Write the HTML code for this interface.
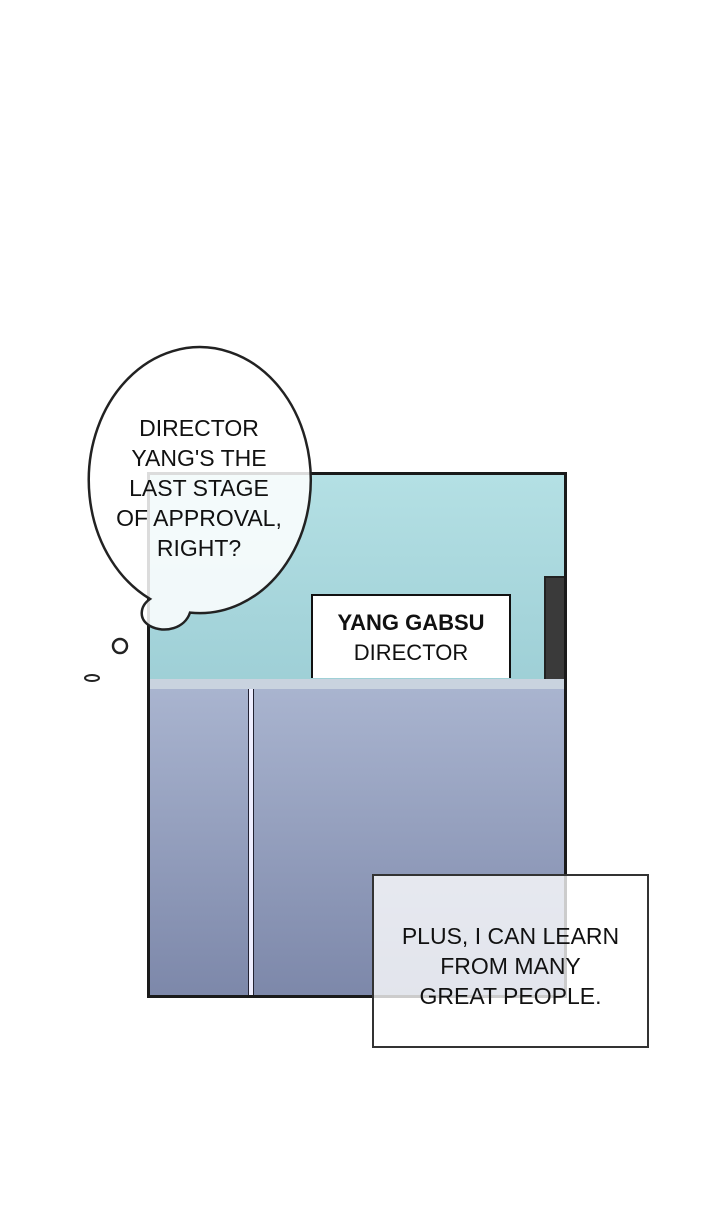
<!DOCTYPE html>
<html><head><style>
body{margin:0;width:720px;height:1206px;background:#fff;position:relative;overflow:hidden;font-family:"Liberation Sans",sans-serif}
.a{position:absolute}
</style></head><body>
<div class="a" style="left:147px;top:472px;width:420px;height:526px;box-sizing:border-box;border:3px solid #1a1a1a;overflow:hidden">
 <div class="a" style="left:0;top:0;width:420px;height:210px;background:linear-gradient(#b4e0e4,#9ecfd6)"></div>
 <div class="a" style="left:394px;top:101px;width:26px;height:110px;background:#3a3a3a;border:2px solid #222"></div>
 <div class="a" style="left:0;top:204px;width:420px;height:10px;background:#c9d3df;border-bottom:1px solid #667"></div>
 <div class="a" style="left:0;top:214px;width:420px;height:312px;background:linear-gradient(#a9b4cf,#7c87a9)"></div>
 <div class="a" style="left:98px;top:214px;width:4px;height:312px;background:#eef;border-left:1px solid #223;border-right:1px solid #223"></div>
</div>
<div class="a" style="left:311px;top:594px;width:200px;height:84px;background:#fff;border:2px solid #111;border-bottom:none;box-sizing:border-box;text-align:center;font-size:22px;line-height:30px;color:#111;padding-top:12px">
<b>YANG GABSU</b><br>DIRECTOR</div>
<svg class="a" style="left:0;top:0" width="720" height="1206">
 <path d="M150 599 A111 133 0 1 1 190 612.6 C185 628 165 634 150 626 C138 619 140 606 150 599 Z" fill="rgba(255,255,255,0.85)" stroke="#222" stroke-width="2.5"/>
 <circle cx="120" cy="646" r="7" fill="#fff" stroke="#222" stroke-width="2.5"/>
 <ellipse cx="92" cy="678" rx="7" ry="3" fill="#fff" stroke="#222" stroke-width="2"/>
</svg>
<div class="a" style="left:89px;top:413px;width:220px;text-align:center;font-size:23px;line-height:30px;color:#111">DIRECTOR<br>YANG'S THE<br>LAST STAGE<br>OF APPROVAL,<br>RIGHT?</div>
<div class="a" style="left:372px;top:874px;width:277px;height:174px;box-sizing:border-box;border:2px solid #333;background:rgba(255,255,255,0.78);text-align:center;font-size:23px;line-height:30px;color:#111;padding-top:45px">PLUS, I CAN LEARN<br>FROM MANY<br>GREAT PEOPLE.</div>
</body></html>
